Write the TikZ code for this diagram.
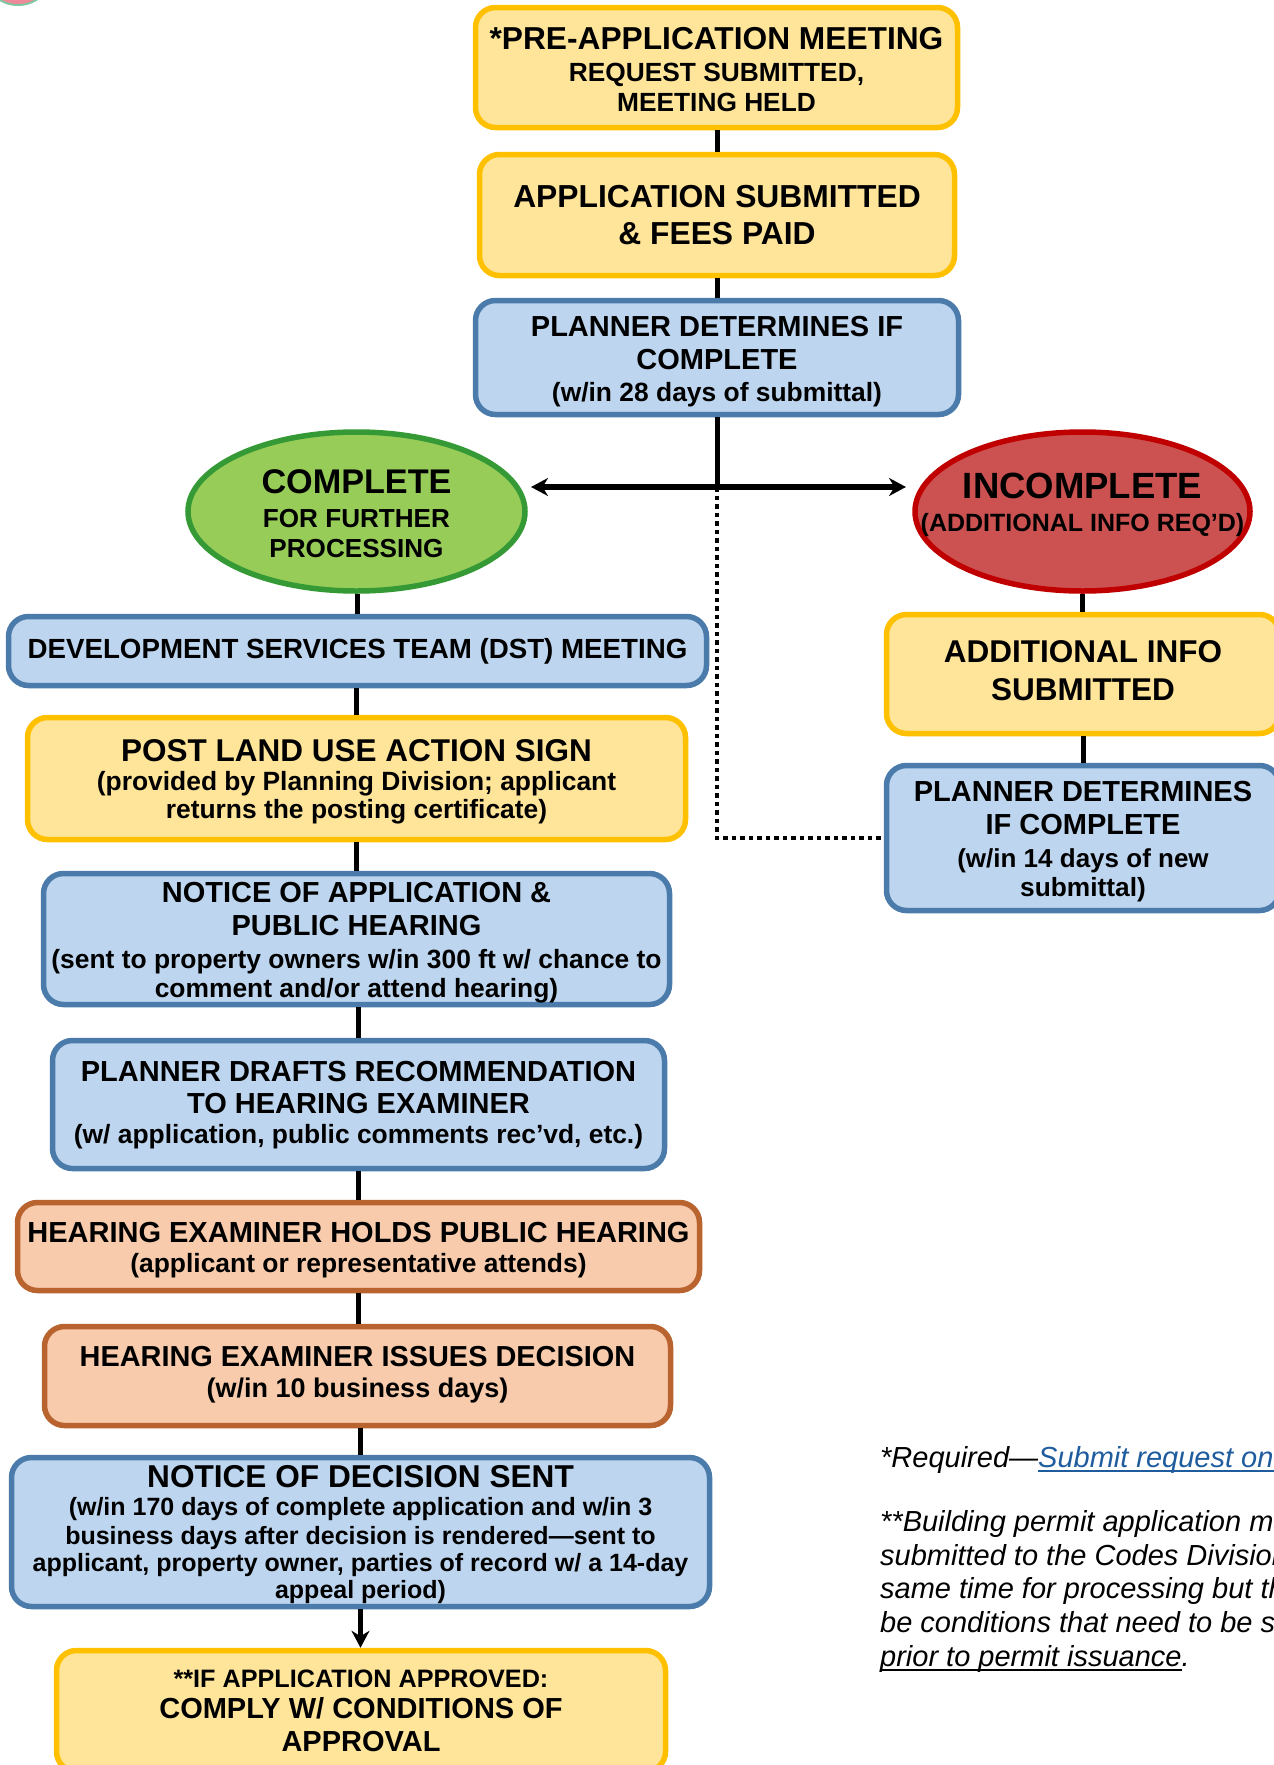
\documentclass[tikz,border=0pt]{standalone}
\usepackage{fontspec}
\setmainfont{Liberation Sans}
\usetikzlibrary{shapes.geometric,arrows.meta}
\definecolor{yfill}{HTML}{FFE599}\definecolor{ydraw}{HTML}{FFC000}
\definecolor{bfill}{HTML}{BDD5EE}\definecolor{bdraw}{HTML}{4A7BAA}
\definecolor{ofill}{HTML}{F7CBAC}\definecolor{odraw}{HTML}{B9632F}
\definecolor{gfill}{HTML}{97CC58}\definecolor{gdraw}{HTML}{359A35}
\definecolor{rfill}{HTML}{CC5252}\definecolor{rdraw}{HTML}{C00000}
\definecolor{linkc}{HTML}{1F5C9E}
\definecolor{logog}{HTML}{7CC8A0}\definecolor{logor}{HTML}{EE8A9A}
% one line of text: height, depth (the distance to the next baseline), size, text
\newcommand{\Ln}[4]{\raisebox{0pt}[#1pt][#2pt]{\makebox[0pt]{\fontsize{#3}{#3}\bfseries\selectfont #4}}}
% thick underline
\newcommand{\Ul}[1]{\setbox0=\hbox{#1}\rlap{\rule[-4.5pt]{\wd0}{2pt}}\box0}
\tikzset{
  box/.style={rectangle,rounded corners=20pt,line width=5.5pt,inner sep=0pt,align=center,text=black,font=\offinterlineskip},
  yel/.style={box,fill=yfill,draw=ydraw},
  blu/.style={box,fill=bfill,draw=bdraw},
  ora/.style={box,fill=ofill,draw=odraw},
  oval/.style={ellipse,line width=5.5pt,inner sep=0pt,align=center,font=\offinterlineskip},
  link/.style={line width=5pt,black},
  dots/.style={line width=4.5pt,black,dash pattern=on 4.5pt off 4pt},
  biarrow/.style={line width=5.5pt,black,{Stealth[length=17pt,width=18pt]}-{Stealth[length=17pt,width=18pt]}},
  note/.style={anchor=north west,inner sep=0pt,align=left,font=\fontsize{29}{33.8}\itshape\selectfont}
}
\begin{document}
\begin{tikzpicture}[x=1pt,y=-1pt]
\clip (0,0) rectangle (1274,1765);
\path[fill=white] (0,0) rectangle (1274,1765);
% logo fragment
\fill[logog] (18,-30) circle[radius=36];
\fill[logor] (18,-30) circle[radius=34];
% nodes
\node[yel,minimum width=482pt,minimum height=120pt] (pre) at (716.5,67.5) {\Ln{26.4}{31.8}{31.7}{*PRE-APPLICATION MEETING}\\\Ln{0}{30.4}{26.3}{REQUEST SUBMITTED,}\\\Ln{0}{0}{26.3}{MEETING HELD}};
\node[yel,minimum width=475pt,minimum height=121pt] (app) at (717,215) {\Ln{21.6}{37.2}{31.8}{APPLICATION SUBMITTED}\\\Ln{0}{0}{31.8}{\& FEES PAID}};
\node[blu,minimum width=483pt,minimum height=114pt] (plan) at (717,357.5) {\Ln{22.9}{32.6}{29}{PLANNER DETERMINES IF}\\\Ln{0}{31.7}{29}{COMPLETE}\\\Ln{0}{0}{26.4}{(w/in 28 days of submittal)}};
\node[oval,fill=gfill,draw=gdraw,minimum width=337pt,minimum height=159pt] (comp) at (356.5,511.5) {\Ln{28.3}{33.2}{34.2}{COMPLETE}\\\Ln{0}{30.3}{26.1}{FOR FURTHER}\\\Ln{0}{0}{26.1}{PROCESSING}};
\node[oval,fill=rfill,draw=rdraw,minimum width=335pt,minimum height=159pt] (inc) at (1082.5,511.5) {\Ln{6.2}{33.2}{36.5}{INCOMPLETE}\\\Ln{0}{0}{25}{(ADDITIONAL INFO REQ’D)}};
\node[blu,minimum width=698pt,minimum height=69pt] (dst) at (357.5,651) {\Ln{14}{0}{27.7}{DEVELOPMENT SERVICES TEAM (DST) MEETING}};
\node[yel,minimum width=658pt,minimum height=122pt] (post) at (356.5,778.5) {\Ln{23.6}{28.6}{31.5}{POST LAND USE ACTION SIGN}\\\Ln{0}{28.2}{26.4}{(provided by Planning Division; applicant}\\\Ln{0}{0}{26.4}{returns the posting certificate)}};
\node[blu,minimum width=626pt,minimum height=131pt] (notice) at (356.5,939) {\Ln{22.4}{32.6}{29}{NOTICE OF APPLICATION \&}\\\Ln{0}{32.9}{29}{PUBLIC HEARING}\\\Ln{0}{29.3}{26.4}{(sent to property owners w/in 300 ft w/ chance to}\\\Ln{0}{0}{26.4}{comment and/or attend hearing)}};
\node[blu,minimum width=612pt,minimum height=128pt] (draft) at (358.5,1104.5) {\Ln{16.7}{31.5}{29}{PLANNER DRAFTS RECOMMENDATION}\\\Ln{0}{30.6}{29}{TO HEARING EXAMINER}\\\Ln{0}{0}{26.4}{(w/ application, public comments rec’vd, etc.)}};
\node[ora,minimum width=682pt,minimum height=88pt] (holds) at (358.5,1246.5) {\Ln{21.9}{29.5}{29}{HEARING EXAMINER HOLDS PUBLIC HEARING}\\\Ln{0}{0}{26.4}{(applicant or representative attends)}};
\node[ora,minimum width=626pt,minimum height=99pt] (issues) at (357.5,1376) {\Ln{11.8}{30.8}{28.9}{HEARING EXAMINER ISSUES DECISION}\\\Ln{0}{0}{27}{(w/in 10 business days)}};
\node[blu,minimum width=698pt,minimum height=149pt] (nod) at (360.5,1532) {\Ln{21.8}{28.1}{31.6}{NOTICE OF DECISION SENT}\\\Ln{0}{28.1}{25}{(w/in 170 days of complete application and w/in 3}\\\Ln{0}{27}{25}{business days after decision is rendered—sent to}\\\Ln{0}{27}{25}{applicant, property owner, parties of record w/ a 14-day}\\\Ln{0}{0}{25}{appeal period)}};
\node[yel,minimum width=609pt,minimum height=121pt] (comply) at (361,1711) {\Ln{16.4}{31.7}{25.2}{**IF APPLICATION APPROVED:}\\\Ln{0}{32.7}{29}{COMPLY W/ CONDITIONS OF}\\\Ln{0}{0}{29}{APPROVAL}};
\node[yel,minimum width=393pt,minimum height=119pt] (add) at (1083,674) {\Ln{14.9}{37.1}{31.5}{ADDITIONAL INFO}\\\Ln{0}{0}{31.5}{SUBMITTED}};
\node[blu,minimum width=393pt,minimum height=145pt] (plan2) at (1083,838) {\Ln{21.8}{32.6}{29}{PLANNER DETERMINES}\\\Ln{0}{32.8}{29}{IF COMPLETE}\\\Ln{0}{29.2}{26}{(w/in 14 days of new}\\\Ln{0}{0}{26.3}{submittal)}};
\node[note] (n1) at (880,1446) {*Required—\textcolor{linkc}{\Ul{Submit request on}}};
\node[note] (n2) at (880,1510) {**Building permit application may\\submitted to the Codes Division\\same time for processing but the\\be conditions that need to be s\\\Ul{prior to permit issuance}.};
% connectors
\coordinate (j) at (plan.south |- 0,487);
\coordinate (la) at (531,487);
\coordinate (ra) at (906,487);
\draw[link] (pre.south -| app.south) -- (app.north);
\draw[link] (app.south) -- (plan.north -| app.south);
\draw[dots] (j) -- (j |- plan2.west) -- (plan2.west);
\draw[link] (plan.south) -- (j);
\draw[biarrow] (la) -- (ra);
\draw[link] (comp.south -| dst.south) -- (dst.north);
\draw[link] (dst.south -| post.south) -- (post.north);
\draw[link] (post.south) -- (notice.north);
\draw[link] (notice.south -| draft.north) -- (draft.north);
\draw[link] (draft.south) -- (holds.north);
\draw[link] (holds.south) -- (issues.north -| holds.south);
\draw[link] (issues.south -| nod.north) -- (nod.north);
\draw[link,-{Stealth[length=17pt,width=18pt]}] (nod.south) -- (comply.north -| nod.south);
\draw[link] (inc.south) -- (add.north -| inc.south);
\draw[link] (add.south) -- (plan2.north);
\end{tikzpicture}
\end{document}
